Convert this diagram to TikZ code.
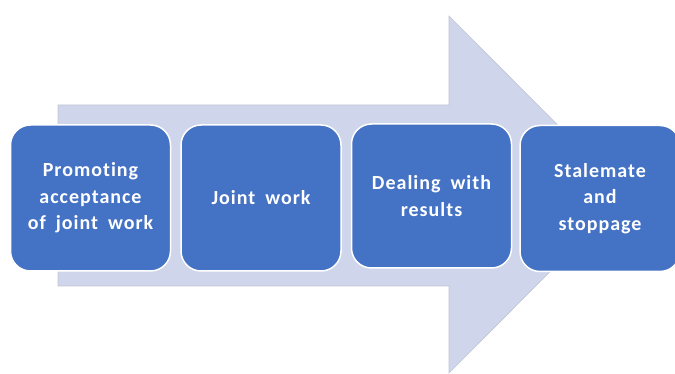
\documentclass[tikz,border=0pt]{standalone}
\usepackage{fontspec}
\setmainfont{Carlito}
\newfontfamily\boxfont[LetterSpace=5,WordSpace=1.8,Ligatures=NoCommon]{Carlito}
\definecolor{boxblue}{HTML}{4472C4}
\definecolor{arrowfill}{HTML}{CFD5EA}
\definecolor{arrowedge}{HTML}{C2C6D2}
\tikzset{
  stagebox/.style={rectangle, rounded corners=20pt, fill=boxblue, draw=white, line width=1.5pt,
    minimum width=160pt, minimum height=146pt, align=center, text=white,
    font=\boxfont\fontsize{20}{26.5}\selectfont\bfseries, inner sep=2pt},
  bigarrow/.style={fill=arrowfill, draw=arrowedge, line width=0.6pt}
}
\begin{document}
\begin{tikzpicture}[x=1pt,y=-1pt]
\useasboundingbox (0,0) rectangle (675,374);
\fill[white] (0,0) rectangle (675,374);
\coordinate (a1) at (58,105);
\coordinate (a2) at (449,105);
\coordinate (a3) at (449,16);
\coordinate (a4) at (627,194.5);
\coordinate (a5) at (449,373);
\coordinate (a6) at (449,286);
\coordinate (a7) at (58,286);
\draw[bigarrow] (a1) -- (a2) -- (a3) -- (a4) -- (a5) -- (a6) -- (a7) -- cycle;
\node[stagebox] (b1) at (90.5,198) {Promoting\\acceptance\\of joint work};
\node[stagebox] (b2) at (261,198) {Joint work};
\node[stagebox, minimum height=144pt] (b3) at (431.5,196) {Dealing with\\results};
\node[stagebox] (b4) at (600,198.5) {Stalemate\\and\\stoppage};
\end{tikzpicture}
\end{document}
